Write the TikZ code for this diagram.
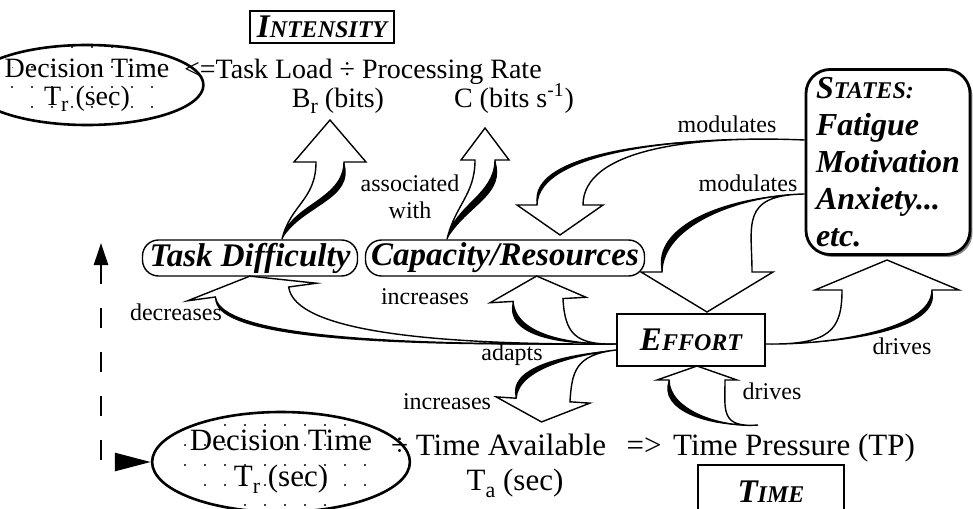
\documentclass[tikz,border=0pt]{standalone}
\usepackage{fontspec}
\setmainfont{Liberation Serif}
\usepackage{tikz}
\usetikzlibrary{positioning,calc,shapes.geometric,arrows.meta,shadows}

% fake small capitals
\newcommand{\smcap}[2]{#1{\fontsize{12}{12}\selectfont #2}}
% lowered index
\newcommand{\low}[1]{\raisebox{-0.5ex}{\fontsize{11}{11}\selectfont #1}}

% hollow bent arrow with a heavy edge
% #1 start, #2 #3 controls, #4 head base, #5 half shaft, #6 half head, #7 head length, #8 heavy side
\newcommand{\fatarrow}[8]{%
  \pgfmathsetmacro{\faa}{90*#8}%
  \pgfmathsetmacro{\fab}{-90*#8}%
  \coordinate (fa-co) at ($(#3)!#5!\fab:(#4)$);
  \coordinate (fa-ci) at ($(#3)!#5!\faa:(#4)$);
  \coordinate (fa-so) at ($(#4)!#5!\faa:(#3)$);
  \coordinate (fa-si) at ($(#4)!#5!\fab:(#3)$);
  \coordinate (fa-ho) at ($(#4)!#6!\faa:(#3)$);
  \coordinate (fa-hi) at ($(#4)!#6!\fab:(#3)$);
  \coordinate (fa-t) at ($(#4)!#7!180:(#3)$);
  \coordinate (fa-d) at ($(#4)!6pt!\faa:(#3)$);
  \coordinate (fa-v) at ($(fa-d)-(#4)$);
  \filldraw [fill=white, line width=0.7pt] (#1) .. controls (#2) and (fa-co) .. (fa-so) -- (fa-ho) -- (fa-t) -- (fa-hi) -- (fa-si) .. controls (fa-ci) and (#2) .. (#1) -- cycle;
  \fill (#1) .. controls (#2) and (fa-co) .. (fa-so) .. controls ($(fa-co)+(fa-v)$) and ($(#2)+(fa-v)$) .. (#1);
}

\begin{document}
\begin{tikzpicture}[x=0.5pt, y=-0.5pt,
    every node/.style={font=\fontsize{14}{14}\selectfont},
    big/.style={font=\fontsize{15.5}{18}\selectfont},
    lbl/.style={font=\fontsize{12}{13.5}\selectfont},
    bi/.style={font=\fontsize{16.5}{18}\selectfont\bfseries\itshape},
    rbox/.style={draw, line width=1.1pt, inner sep=0pt},
    rnd/.style={draw, line width=0.7pt, rounded corners=8pt, inner sep=0pt},
    dt/.style={draw, ellipse, line width=1.3pt, inner sep=0pt, align=center}]
    \useasboundingbox (0,0) rectangle (973,508);

    % Dots
    \begin{scope}
        \clip (87,85) ellipse [x radius=41.5pt, y radius=20pt];
        \foreach \i in {0,...,8}
            \foreach \j in {0,...,4}
                \fill (12+\i*20, 47+\j*20) circle (0.6pt);
    \end{scope}
    \begin{scope}
        \clip (281,462) ellipse [x radius=51.5pt, y radius=25pt];
        \foreach \i in {0,...,10}
            \foreach \j in {0,...,5}
                \fill (185+\i*20, 405+\j*20) circle (0.6pt);
    \end{scope}

    % Nodes
    \node (dt1) [dt, minimum width=83pt, minimum height=40pt] at (87,85) {Decision Time\\T\low{r} (sec)};
    \node (load) [anchor=base west] at (177,79) {<=Task Load ÷ Processing Rate};
    \node (bits) [anchor=base] at (338,107) {B\low{r} (bits)};
    \node (rate) [anchor=base] at (514,107) {C (bits s\textsuperscript{-1})};
    \node (intensity) [rbox, bi, minimum width=72pt, minimum height=16pt] at (322,27) {\smcap{I}{NTENSITY}};
    \node (diff) [rnd, bi, minimum width=107.5pt, minimum height=18pt] at (250,258) {Task Difficulty};
    \node (cap) [rnd, bi, minimum width=139.5pt, minimum height=18pt] at (505,258) {Capacity/Resources};
    \node (states) [draw, line width=1.4pt, rounded corners=12pt, bi, font=\fontsize{16}{18.5}\selectfont\bfseries\itshape, align=left, minimum width=82pt, minimum height=92.5pt, fill=white, drop shadow={shadow xshift=1.2pt, shadow yshift=-1.2pt, opacity=1}] at (888,162) {\smcap{S}{TATES:}\\Fatigue\\Motivation\\Anxiety...\\etc.};
    \node (effort) [rbox, bi, minimum width=74pt, minimum height=26pt, fill=white] at (691,340) {\smcap{E}{FFORT}};
    \node (dt2) [dt, big, minimum width=103pt, minimum height=50pt] at (281,462) {Decision Time\\T\low{r} (sec)};
    \node (avail) [big, anchor=base west] at (384,455) {÷ Time Available};
    \node (yields) [big, anchor=base] at (644,455) {=>};
    \node (tp) [big, anchor=base] at (794,455) {Time Pressure (TP)};
    \node (ta) [big, anchor=base] at (515,490) {T\low{a} (sec)};
    \node (time) [rbox, bi, minimum width=73pt, minimum height=27pt] at (771,492) {\smcap{T}{IME}};

    % Labels
    \node (assoc) [lbl, align=center] at (410,197) {associated\\with};
    \node (mod1) [lbl] at (727,124) {modulates};
    \node (mod2) [lbl] at (748,183) {modulates};
    \node (incr1) [lbl] at (425,297) {increases};
    \node (decr) [lbl] at (176,312) {decreases};
    \node (adapt) [lbl] at (512,355) {adapts};
    \node (incr2) [lbl] at (447,402) {increases};
    \node (drv1) [lbl] at (772,391) {drives};
    \node (drv2) [lbl] at (902,346) {drives};

    % Fat arrows
    \coordinate (tpup) at (758,425);
    \fatarrow{[yshift=-2pt]effort.west}{430,345}{258,336}{252,292}{18.5pt}{32.5pt}{8pt}{-1}
    \fatarrow{[yshift=-2pt]effort.west}{575,345}{540,335}{538,300}{12.5pt}{24pt}{12pt}{-1}
    \fatarrow{[yshift=-5pt]effort.west}{575,355}{545,370}{543,400}{13.5pt}{23.5pt}{11pt}{1}
    \fatarrow{[xshift=16pt]diff.north}{290,205}{330,200}{330,162}{7pt}{18pt}{21pt}{1}
    \fatarrow{[xshift=-29pt]cap.north}{455,205}{485,195}{485,160}{5pt}{12pt}{16pt}{1}
    \fatarrow{[yshift=11pt]states.west}{690,135}{560,150}{560,205}{11.5pt}{21.5pt}{15pt}{1}
    \fatarrow{[yshift=-16pt]states.west}{740,195}{707,225}{707,272}{22.5pt}{33pt}{20pt}{1}
    \fatarrow{tpup}{720,428}{697,410}{697,380}{14pt}{20pt}{7pt}{-1}
    \fatarrow{[yshift=-2pt]effort.east}{830,345}{887,330}{887,290}{22.5pt}{36pt}{15pt}{1}

    % Dashed link
    \coordinate (up) at (101,243);
    \draw [dash pattern=on 10pt off 12pt, line width=1.3pt, {Triangle[length=11pt,width=7pt]}-{Triangle[length=18pt,width=9pt]}] (up) |- (dt2.west);
\end{tikzpicture}
\end{document}
